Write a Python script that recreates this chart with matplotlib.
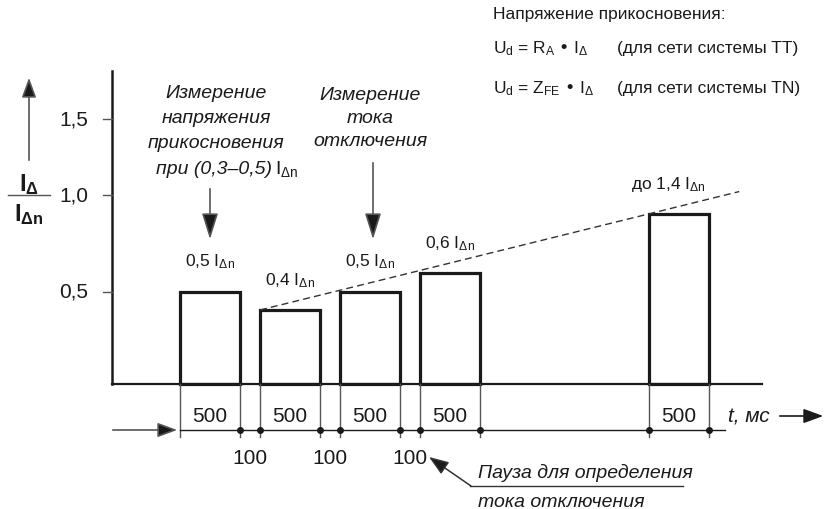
# RCD test sequence: touch-voltage measurement and trip-current ramp
import matplotlib.pyplot as plt
import matplotlib
import numpy as np

matplotlib.use("Agg")
plt.rcParams["font.family"] = ["Liberation Sans Narrow", "Liberation Sans", "DejaVu Sans"]
plt.rcParams["mathtext.default"] = "regular"

# ------------------------------------------------------------
# data
# ------------------------------------------------------------
levels = [0.5, 0.4, 0.5, 0.6, 0.92]                 # I / I_dn of each test pulse
level_labels = ["0,5", "0,4", "0,5", "0,6", "до 1,4"]
pulse_labels = ["500", "500", "500", "500", "500"]  # pulse length, ms
pause_labels = ["100", "100", "100"]                # pause, ms
ytick_pos = [0.5, 1.02, 1.43]
ytick_labels = ["0,5", "1,0", "1,5"]

# schematic layout (not to scale): pulse = 1 unit, pause = 1/3, gap before last pulse
PULSE_W = 1.0
PAUSE_W = 1 / 3
SKIP_W = 2.82

starts = [0.0]
for i in range(1, len(levels)):
    step = SKIP_W if i == len(levels) - 1 else PAUSE_W
    starts.append(starts[-1] + PULSE_W + step)
starts = np.array(starts)
ends = starts + PULSE_W
centers = starts + PULSE_W / 2


# pixel -> data helpers for free-standing annotations
def dx(xp):
    return (xp - 180) / 60


def dy(yp):
    return (385 - yp) / 185


fig = plt.figure(figsize=(8.3, 5.1), dpi=100)
ax = fig.add_axes([0, 0, 1, 1])
ax.set_xlim(dx(0), dx(830))
ax.set_ylim(dy(510), dy(0))
ax.axis("off")

INK = "#1a1a1a"
GREY = "#555555"

# ------------------------------------------------------------
# axes lines
# ------------------------------------------------------------
yax = dx(112)
ax.plot([yax, yax], [0, dy(72)], color=INK, lw=1.8)
ax.plot([yax, dx(762)], [0, 0], color=INK, lw=1.6)
for pos, lab in zip(ytick_pos, ytick_labels):
    ax.plot([dx(103), yax], [pos, pos], color=GREY, lw=1)
    ax.text(dx(88), pos, lab, ha="right", va="center", fontsize=15, color=INK)

# y label as a fraction + arrow
ax.text(dx(29), dy(185), r"I$_{\Delta}$", ha="center", va="center",
        fontsize=17, fontweight="bold", color=INK)
ax.plot([dx(8), dx(50)], [dy(196), dy(196)], color=GREY, lw=1)
ax.text(dx(29), dy(215), r"I$_{\Delta n}$", ha="center", va="center",
        fontsize=17, fontweight="bold", color=INK)
ax.annotate("", xy=(dx(29), dy(76)), xytext=(dx(29), dy(164)),
            arrowprops=dict(arrowstyle="-|>,head_length=0.6,head_width=0.22",
                            mutation_scale=20, color=GREY, fc=INK, lw=1.2))

# ------------------------------------------------------------
# pulses
# ------------------------------------------------------------
ax.bar(starts, levels, width=PULSE_W, align="edge", fill=False,
       edgecolor=INK, linewidth=2.3)

for c, lv, lab in zip(centers, levels, level_labels):
    xoff = -0.18 if lab.startswith("до") else 0
    ax.text(c + xoff, lv + 0.165, lab + r" I$_{\Delta n}$", ha="center",
            va="center", fontsize=12.5, color=INK)

# dashed ramp through the top-left corners of the ramp pulses
slope = (levels[-1] - levels[1]) / (starts[-1] - starts[1])
rx = np.array([starts[1], starts[-1] + 1.5])
ax.plot(rx, levels[1] + slope * (rx - starts[1]), color="#333333", lw=1,
        dashes=(5, 3))

# ------------------------------------------------------------
# time axis
# ------------------------------------------------------------
ty = dy(431)
edges = np.sort(np.concatenate([starts, ends]))
for e in edges:
    ax.plot([e, e], [0, dy(438)], color=GREY, lw=1)
ax.plot([0, dx(725)], [ty, ty], color=INK, lw=1)
ax.plot(edges[1:], [ty] * (len(edges) - 1), "o", ms=4, color=INK)
ax.annotate("", xy=(0, ty), xytext=(dx(110), ty),
            arrowprops=dict(arrowstyle="-|>,head_length=0.6,head_width=0.22",
                            mutation_scale=20, color=GREY, fc=INK, lw=1.2))

for c, lab in zip(centers, pulse_labels):
    ax.text(c, dy(417), lab, ha="center", va="center", fontsize=15, color=INK)
for s, e, lab in zip(ends[:3], starts[1:4], pause_labels):
    ax.text((s + e) / 2, dy(459), lab, ha="center", va="center",
            fontsize=15, color=INK)

ax.text(dx(728), dy(417), "t, мс", ha="left", va="center", fontsize=15,
        style="italic", color=INK)
ax.annotate("", xy=(dx(826), dy(417)), xytext=(dx(777), dy(417)),
            arrowprops=dict(arrowstyle="-|>,head_length=0.6,head_width=0.22",
                            mutation_scale=20, color=INK, fc=INK, lw=1.2))

# pause annotation
ax.text(dx(478), dy(473), "Пауза для определения", ha="left", va="center",
        fontsize=14, style="italic", color=INK)
ax.plot([dx(470), dx(683)], [dy(487), dy(487)], color="#333333", lw=1)
ax.text(dx(478), dy(503), "тока отключения", ha="left", va="center",
        fontsize=14, style="italic", color=INK)
ax.annotate("", xy=(dx(429), dy(458)), xytext=(dx(471), dy(487)),
            arrowprops=dict(arrowstyle="-|>,head_length=0.6,head_width=0.22",
                            mutation_scale=20, color="#333333", fc=INK,
                            lw=1.1, shrinkA=0, shrinkB=0))

# ------------------------------------------------------------
# measurement notes above the pulses
# ------------------------------------------------------------
note1 = ["Измерение", "напряжения", "прикосновения"]
for k, line in enumerate(note1):
    ax.text(dx(216), dy(93 + 25.5 * k), line, ha="center", va="center",
            fontsize=14, style="italic", color=INK)
ax.text(dx(272), dy(169), "при (0,3–0,5)", ha="right", va="center",
        fontsize=14, style="italic", color=INK)
ax.text(dx(275), dy(169), r"I$_{\Delta n}$", ha="left", va="center",
        fontsize=14, color=INK)
ax.annotate("", xy=(centers[0], dy(243)), xytext=(centers[0], dy(187)),
            arrowprops=dict(arrowstyle="-|>,head_length=0.8,head_width=0.25",
                            mutation_scale=20, color=GREY, fc=INK, lw=1.2))

note2 = ["Измерение", "тока", "отключения"]
for k, line in enumerate(note2):
    ax.text(centers[2], dy(95 + 23.5 * k), line, ha="center", va="center",
            fontsize=14, style="italic", color=INK)
ax.annotate("", xy=(dx(373), dy(243)), xytext=(dx(373), dy(161)),
            arrowprops=dict(arrowstyle="-|>,head_length=0.8,head_width=0.25",
                            mutation_scale=20, color=GREY, fc=INK, lw=1.2))

# ------------------------------------------------------------
# touch voltage formulas (top right)
# ------------------------------------------------------------
ax.text(dx(493), dy(15), "Напряжение прикосновения:", ha="left",
        va="center", fontsize=12.5, color=INK)
ax.text(dx(493), dy(49), r"U$_d$ = R$_A$ • I$_{\Delta}$", ha="left",
        va="center", fontsize=12.5, color=INK)
ax.text(dx(617), dy(49), "(для сети системы TT)", ha="left", va="center",
        fontsize=12.5, color=INK)
ax.text(dx(493), dy(89), r"U$_d$ = Z$_{FE}$ • I$_{\Delta}$", ha="left",
        va="center", fontsize=12.5, color=INK)
ax.text(dx(617), dy(89), "(для сети системы TN)", ha="left", va="center",
        fontsize=12.5, color=INK)

fig.savefig("out.png", dpi=100)
print("saved out.png")
